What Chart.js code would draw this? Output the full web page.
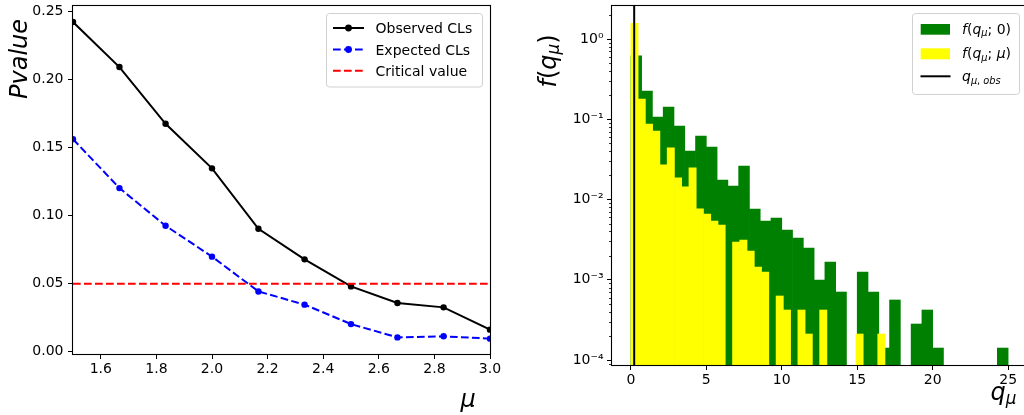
<!DOCTYPE html>
<html>
<head>
<meta charset="utf-8">
<script src="https://cdn.jsdelivr.net/npm/chart.js"></script>
<style>
  html, body { margin:0; padding:0; background:#fff; width:1024px; height:415px; overflow:hidden; }
  .panel { position:absolute; top:0; }
  #pl { left:0; width:512px; height:415px; }
  #pr { left:512px; width:520px; height:415px; }
  canvas { display:block; }
</style>
</head>
<body>
<div class="panel" id="pl"><canvas id="cl" width="512" height="415"></canvas></div>
<div class="panel" id="pr"><canvas id="cr" width="520" height="415"></canvas></div>
<script>
// ---------------- Left panel data ----------------
const muValues    = [1.5, 1.667, 1.833, 2.0, 2.167, 2.333, 2.5, 2.667, 2.833, 3.0];
const observedCLs = [0.2424, 0.2093, 0.1676, 0.1348, 0.0904, 0.0679, 0.0480, 0.0358, 0.0326, 0.0162];
const expectedCLs = [0.1563, 0.1203, 0.0926, 0.0699, 0.0443, 0.0346, 0.0203, 0.0105, 0.0113, 0.0096];
const criticalValue = 0.05;
const muTicks     = [1.6, 1.8, 2.0, 2.2, 2.4, 2.6, 2.8, 3.0];
const pvalueTicks = [0.00, 0.05, 0.10, 0.15, 0.20, 0.25];
const muRange     = [1.5, 3.0];
const pvalueRange = [-0.0017, 0.2542];

// ---------------- Right panel data ----------------
// density histograms, 35 bins each
const rangeB  = [0, 25.0];   // f(q_mu;0) histogram range
const rangeSB = [0, 16.84];  // f(q_mu;mu) histogram range
const densityB  = [0.619, 0.225, 0.1067, 0.142, 0.0824, 0.0402, 0.0618, 0.0451, 0.0175, 0.01473,
                   0.0261, 0.00762, 0.00540, 0.00589, 0.00417, 0.00331, 0.00249, 0.000993, 0.00166, 0.000704,
                   0, 0.00125, 0.000704, 0.000141, 0.000560, 0, 0.000281, 0.000420, 0.000141, 0,
                   0, 0, 0, 0, 0.000141];
const densitySB = [1.569, 0.1788, 0.0873, 0.0714, 0.0271, 0.0442, 0.0187, 0.01444, 0.0249, 0.00768,
                   0.00659, 0.00540, 0.00481, 0, 0.00295, 0.00313, 0.00228, 0.00144, 0.00125, 0,
                   0.000628, 0.000420, 0, 0.000420, 0.000211, 0, 0.000420, 0, 0, 0,
                   0, 0.000211, 0, 0, 0.000211];
const qObs      = 0.22;
const qTicks    = [0, 5, 10, 15, 20, 25];
const logTicks  = [1e-4, 1e-3, 1e-2, 1e-1, 1];
const qRange    = [-1.25, 26.25];
const fRange    = [8.67e-5, 2.58];

// ---------------- common ----------------
const FONT = '"DejaVu Sans", "Liberation Sans", sans-serif';
Chart.defaults.font.family = FONT;
Chart.defaults.font.size = 14;
Chart.defaults.color = '#000';

function fitY(w) { return s => { s.width = w; s.paddingTop = 0; s.paddingBottom = 0; s.paddingLeft = 0; s.paddingRight = 0; }; }
function fitX(h) { return s => { s.height = h; s.paddingTop = 0; s.paddingBottom = 0; s.paddingLeft = 0; s.paddingRight = 0; }; }
const tickGrid = { drawOnChartArea: false, drawTicks: true, tickLength: 5, tickColor: '#000', tickWidth: 1, offset: false };

function drawFrame(chart) {
  const { left, top, right, bottom } = chart.chartArea;
  const ctx = chart.ctx;
  ctx.save();
  ctx.strokeStyle = '#000';
  ctx.lineWidth = 1.1;
  ctx.strokeRect(left - 0.5, top - 0.5, right - left + 1, bottom - top + 1);
  ctx.restore();
}
function legendBox(ctx, x, y, w, h) {
  const r = 3;
  ctx.save();
  ctx.beginPath();
  ctx.moveTo(x + r, y);
  ctx.lineTo(x + w - r, y); ctx.arcTo(x + w, y, x + w, y + r, r);
  ctx.lineTo(x + w, y + h - r); ctx.arcTo(x + w, y + h, x + w - r, y + h, r);
  ctx.lineTo(x + r, y + h); ctx.arcTo(x, y + h, x, y + h - r, r);
  ctx.lineTo(x, y + r); ctx.arcTo(x, y, x + r, y, r);
  ctx.closePath();
  ctx.fillStyle = 'rgba(255,255,255,0.8)';
  ctx.fill();
  ctx.strokeStyle = '#d0d0d0';
  ctx.lineWidth = 1;
  ctx.stroke();
  ctx.restore();
}
// draw math-like text: parts = [[text, style]] style: 'i','r','si','sr'
function drawRich(ctx, parts, x, y, size) {
  let cx = x;
  for (const [t, s] of parts) {
    const sub = s[0] === 's';
    const it = s[s.length - 1] === 'i';
    const fs = sub ? size * 0.7 : size;
    ctx.font = (it ? 'oblique ' : '') + fs + 'px ' + FONT;
    ctx.fillText(t, cx, y + (sub ? size * 0.16 : 0));
    cx += ctx.measureText(t).width;
  }
}

// ---------------- Left chart ----------------
const leftDecor = {
  id: 'leftDecor',
  afterDatasetsDraw(chart) {
    drawFrame(chart);
    const ctx = chart.ctx;
    legendBox(ctx, 326.5, 13.5, 156, 73.5);
    const rows = [
      { y: 28.0, color: '#000000', dash: [], marker: true, label: 'Observed CLs' },
      { y: 49.5, color: '#0000ff', dash: [7.7, 3.3], marker: true, label: 'Expected CLs' },
      { y: 70.7, color: '#ff0000', dash: [7.7, 3.3], marker: false, label: 'Critical value' }
    ];
    for (const r of rows) {
      ctx.save();
      ctx.strokeStyle = r.color; ctx.lineWidth = 2; ctx.setLineDash(r.dash);
      ctx.beginPath(); ctx.moveTo(333, r.y); ctx.lineTo(364, r.y); ctx.stroke();
      if (r.marker) {
        ctx.setLineDash([]); ctx.fillStyle = r.color;
        ctx.beginPath(); ctx.arc(348.5, r.y, 3.4, 0, Math.PI * 2); ctx.fill();
      }
      ctx.fillStyle = '#000';
      ctx.font = '14px ' + FONT;
      ctx.textAlign = 'left'; ctx.textBaseline = 'alphabetic';
      ctx.fillText(r.label, 375.5, r.y + 5);
      ctx.restore();
    }
  },
  afterDraw(chart) {
    const ctx = chart.ctx;
    ctx.save();
    ctx.fillStyle = '#000';
    ctx.textAlign = 'left'; ctx.textBaseline = 'alphabetic';
    ctx.font = 'oblique 24px ' + FONT;
    ctx.fillText('\u03bc', 460.5, 406.5);
    ctx.translate(26.5, 99);
    ctx.rotate(-Math.PI / 2);
    ctx.fillText('Pvalue', 0, 0);
    ctx.restore();
  }
};

new Chart(document.getElementById('cl'), {
  type: 'line',
  data: {
    datasets: [
      {
        label: 'Observed CLs',
        data: muValues.map((m, i) => ({ x: m, y: observedCLs[i] })),
        borderColor: '#000000', backgroundColor: '#000000',
        borderWidth: 2, pointRadius: 3.2, pointBorderWidth: 0, pointBackgroundColor: '#000000',
        tension: 0, clip: 0, order: 3
      },
      {
        label: 'Expected CLs',
        data: muValues.map((m, i) => ({ x: m, y: expectedCLs[i] })),
        borderColor: '#0000ff', backgroundColor: '#0000ff', borderDash: [7.7, 3.3],
        borderWidth: 2, pointRadius: 3.2, pointBorderWidth: 0, pointBackgroundColor: '#0000ff',
        tension: 0, clip: 0, order: 2
      },
      {
        label: 'Critical value',
        data: muRange.map(m => ({ x: m, y: criticalValue })),
        borderColor: '#ff0000', borderDash: [7.7, 3.3],
        borderWidth: 2, pointRadius: 0, tension: 0, clip: 0, order: 1
      }
    ]
  },
  options: {
    responsive: false, animation: false, events: [],
    layout: { padding: { top: 6, right: 22, left: 0, bottom: 0 }, autoPadding: false },
    plugins: { legend: { display: false }, tooltip: { enabled: false } },
    scales: {
      x: {
        type: 'linear', min: muRange[0], max: muRange[1], offset: false,
        afterBuildTicks: s => { s.ticks = muTicks.map(v => ({ value: v })); },
        afterFit: fitX(61),
        grid: tickGrid, border: { display: false },
        ticks: { callback: v => v.toFixed(1), padding: 2, autoSkip: false, maxRotation: 0, font: { size: 14 }, color: '#000' }
      },
      y: {
        type: 'linear', min: pvalueRange[0], max: pvalueRange[1],
        afterBuildTicks: s => { s.ticks = pvalueTicks.map(v => ({ value: v })); },
        afterFit: fitY(73),
        grid: tickGrid, border: { display: false },
        ticks: { callback: v => v.toFixed(2), padding: 4.5, autoSkip: false, font: { size: 14 }, color: '#000' }
      }
    }
  },
  plugins: [leftDecor]
});

// ---------------- Right chart ----------------
const SUP = { '-': '\u207b', '0': '\u2070', '1': '\u00b9', '2': '\u00b2', '3': '\u00b3', '4': '\u2074', '5': '\u2075' };
function powLabel(v) {
  const e = Math.round(Math.log10(v));
  return '10' + String(e).split('').map(c => SUP[c]).join('');
}
const wB  = (rangeB[1] - rangeB[0]) / densityB.length;
const wSB = (rangeSB[1] - rangeSB[0]) / densitySB.length;

const rightDecor = {
  id: 'rightDecor',
  afterDatasetsDraw(chart) {
    drawFrame(chart);
    const ctx = chart.ctx;
    // minor log ticks
    const ys = chart.scales.y;
    const x0 = chart.chartArea.left;
    ctx.save();
    ctx.strokeStyle = '#000'; ctx.lineWidth = 0.8;
    ctx.beginPath();
    for (let e = -5; e <= 0; e++) {
      for (let m = 2; m <= 9; m++) {
        const v = m * Math.pow(10, e);
        if (v < ys.min || v > ys.max) continue;
        const y = Math.round(ys.getPixelForValue(v)) + 0.5;
        ctx.moveTo(x0 - 3, y); ctx.lineTo(x0 - 0.5, y);
      }
    }
    ctx.stroke();
    ctx.restore();
    // legend
    legendBox(ctx, 400.5, 13.5, 107, 81);
    ctx.save();
    ctx.fillStyle = '#008000'; ctx.fillRect(408.7, 24, 29.3, 10.7);
    ctx.fillStyle = '#ffff00'; ctx.fillRect(408.7, 48.3, 29.3, 11);
    ctx.strokeStyle = '#000'; ctx.lineWidth = 2;
    ctx.beginPath(); ctx.moveTo(408.5, 76.3); ctx.lineTo(438.5, 76.3); ctx.stroke();
    ctx.fillStyle = '#000'; ctx.textAlign = 'left'; ctx.textBaseline = 'alphabetic';
    drawRich(ctx, [['f', 'i'], ['(', 'r'], ['q', 'i'], ['\u03bc', 'si'], ['; 0)', 'r']], 450, 34, 14);
    drawRich(ctx, [['f', 'i'], ['(', 'r'], ['q', 'i'], ['\u03bc', 'si'], ['; ', 'r'], ['\u03bc', 'i'], [')', 'r']], 450, 58.3, 14);
    drawRich(ctx, [['q', 'i'], ['\u03bc', 'si'], [', ', 'sr'], ['obs', 'si']], 450, 81.3, 14);
    ctx.restore();
  },
  afterDraw(chart) {
    const ctx = chart.ctx;
    ctx.save();
    ctx.fillStyle = '#000';
    ctx.textAlign = 'left'; ctx.textBaseline = 'alphabetic';
    drawRich(ctx, [['q', 'i'], ['\u03bc', 'si']], 478.5, 400, 24);
    ctx.translate(43.5, 87.5);
    ctx.rotate(-Math.PI / 2);
    drawRich(ctx, [['f', 'i'], ['(', 'r'], ['q', 'i'], ['\u03bc', 'si'], [')', 'r']], 0, 0, 24);
    ctx.restore();
  }
};

new Chart(document.getElementById('cr'), {
  type: 'bar',
  data: {
    datasets: [
      {
        type: 'line', label: 'q_obs',
        data: fRange.map(f => ({ x: qObs, y: f })),
        xAxisID: 'x', borderColor: '#000', borderWidth: 2, pointRadius: 0, order: 0
      },
      {
        type: 'bar', label: 'f(q;mu)', xAxisID: 'x2',
        data: densitySB.map((v, i) => ({ x: rangeSB[0] + (i + 0.5) * wSB, y: v > 0 ? v : null })),
        backgroundColor: '#ffff00', borderWidth: 0, barPercentage: 1, categoryPercentage: 1, grouped: false, order: 1
      },
      {
        type: 'bar', label: 'f(q;0)', xAxisID: 'x',
        data: densityB.map((v, i) => ({ x: rangeB[0] + (i + 0.5) * wB, y: v > 0 ? v : null })),
        backgroundColor: '#008000', borderWidth: 0, barPercentage: 1, categoryPercentage: 1, grouped: false, order: 2
      }
    ]
  },
  options: {
    responsive: false, animation: false, events: [],
    layout: { padding: { top: 6, right: 5, left: 0, bottom: 0 }, autoPadding: false },
    plugins: { legend: { display: false }, tooltip: { enabled: false } },
    scales: {
      x: {
        type: 'linear', position: 'bottom', min: qRange[0], max: qRange[1], offset: false,
        afterBuildTicks: s => { s.ticks = qTicks.map(v => ({ value: v })); },
        afterFit: fitX(50),
        grid: tickGrid, border: { display: false },
        ticks: { callback: v => String(v), padding: 2, autoSkip: false, maxRotation: 0, font: { size: 14 }, color: '#000' }
      },
      x2: {
        type: 'linear', position: 'bottom', display: false, min: qRange[0], max: qRange[1], offset: false,
        grid: { offset: false },
        afterBuildTicks: s => { s.ticks = []; }
      },
      y: {
        type: 'logarithmic', min: fRange[0], max: fRange[1], bounds: 'data',
        afterBuildTicks: s => { s.ticks = logTicks.map(v => ({ value: v, major: true })); },
        afterFit: fitY(100),
        grid: tickGrid, border: { display: false },
        ticks: { callback: v => powLabel(v), padding: 3.5, autoSkip: false, font: { size: 14 }, color: '#000' }
      }
    }
  },
  plugins: [rightDecor]
});
</script>
</body>
</html>
